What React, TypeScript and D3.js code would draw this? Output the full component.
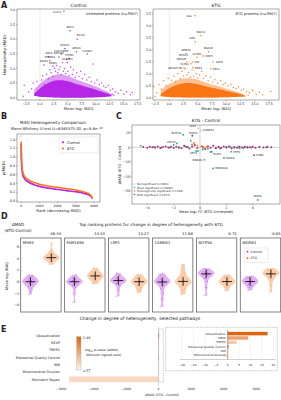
import React from "react";
import * as d3 from "d3";

const FONT = "'DejaVu Sans', sans-serif";
const PURPLE = "#b626e6";
const ORANGE = "#fa7614";
const TEAL = "#35a7a1";
const MAGENTA = "#a8367f";
const GREY = "#c8c8c8";
const AXIS = "#555";
const INK = "#222";

// ---------- A: heterogeneity vs abundance ----------
const ctrlCloudX = [-1.0, 0, 1, 2, 3, 4, 5, 6, 7, 8, 9, 10, 11, 12, 12.8];
const ctrlCloudHi = [0.14, 0.32, 0.46, 0.55, 0.6, 0.6, 0.56, 0.5, 0.44, 0.38, 0.33, 0.27, 0.21, 0.15, 0.08];
const ctrlCloudLo = [0.06, 0.03, 0.02, 0.01, 0, 0, 0, 0, 0, 0, 0, 0.01, 0.02, 0.03, 0.05];
// sparser halo above the dense core
const ctrlHaloHi = [0.28, 0.48, 0.64, 0.74, 0.8, 0.8, 0.74, 0.66, 0.58, 0.52, 0.45, 0.38, 0.3, 0.22, 0.12];
const ctrlOutX = [-3.0, -2.8, -2.0, -1.5, -1.2, -0.8, -0.5, 0.3, 0.5, 0.8, 1.2, 1.5, 1.8, 2.0, 2.3, 2.6, 2.8, 3.0, 3.2, 3.4, 3.6, 3.8, 4.0, 4.2, 4.4, 4.6, 4.8, 5.0, 5.2, 5.5, 5.8, 6.0, 6.3, 6.6, 7.0, 7.3, 7.6, 8.0, 8.4, 8.8, 9.2, 9.5, 9.8, 10.2, 10.6, 11.0, 11.4, 11.8, 12.2, 12.6, 12.9, 13.0, 13.2, 13.5, 14.0, 14.5, 15.0, 15.5, 16.2, 16.5];
const ctrlOutY = [0.05, 0.42, 0.2, 0.3, 0.5, 0.15, 0.55, 0.6, 0.75, 0.45, 0.8, 0.65, 0.95, 0.85, 0.72, 1.0, 0.9, 1.1, 0.85, 0.95, 1.05, 0.78, 1.2, 0.9, 1.0, 0.82, 1.3, 0.9, 0.75, 1.05, 0.8, 0.95, 0.7, 0.85, 0.72, 0.9, 0.65, 0.8, 0.6, 0.7, 0.55, 1.15, 0.5, 0.6, 0.45, 0.5, 0.4, 0.35, 0.42, 0.25, 0.12, 0.3, 0.08, 0.2, 0.15, 0.25, 0.12, 0.2, 0.1, 0.18];
const ctrlLabNames = ["CLCC1", "RDH2", "IDH3A", "MYO1E", "APOL6", "CDC42BPB", "CLASP1", "SNF8", "ANP32B", "PTPN3", "TMEM11", "SCAMP3", "RALB1", "PRIM1"];
const ctrlLabX = [4.3, 5.4, 6.66, 4.46, 6.52, 3.84, 8.48, 1.61, 3.39, 5.27, 1.79, 4.91, 0.71, 2.32];
const ctrlLabY = [2.95, 2.29, 2.0, 1.68, 1.57, 1.49, 1.49, 1.4, 1.39, 1.34, 1.26, 1.2, 1.12, 1.07];
const ctrlLabPos: [number, number, string][] = [[-2.5, 1.2, "end"], [0, -2.5, "middle"], [3.5, -3.5, "middle"]];

const tgCloudX = [-1.5, -0.5, 0.5, 1.5, 2.5, 3.5, 4.5, 5.5, 6.5, 7.5, 8.5, 9.5, 10.5, 11.5, 12.5, 13.3];
const tgCloudHi = [0.14, 0.32, 0.46, 0.55, 0.6, 0.62, 0.58, 0.53, 0.46, 0.41, 0.36, 0.31, 0.25, 0.2, 0.14, 0.07];
const tgCloudLo = [0.06, 0.03, 0.02, 0.01, 0, 0, 0, 0, 0, 0, 0, 0.01, 0.02, 0.03, 0.04, 0.05];
const tgHaloHi = [0.3, 0.5, 0.64, 0.74, 0.8, 0.82, 0.78, 0.7, 0.62, 0.55, 0.48, 0.42, 0.34, 0.27, 0.2, 0.1];
const tgOutX = [-2.7, -2.5, -2.2, -1.8, -1.4, -1.0, -0.6, -0.2, 0.4, 0.8, 1.1, 1.5, 1.9, 2.2, 2.5, 2.8, 3.1, 3.4, 3.7, 4.0, 4.3, 4.7, 5.0, 5.3, 5.7, 6.0, 6.4, 6.8, 7.2, 7.6, 8.0, 8.5, 9.0, 9.4, 9.8, 10.3, 10.8, 11.2, 11.7, 12.1, 12.6, 13.0, 13.5, 13.8, 14.0, 14.6, 15.2, 15.8, 16.3, 17.8];
const tgOutY = [0.45, 0.05, 0.2, 0.55, 0.35, 0.7, 0.5, 0.8, 0.72, 0.9, 0.65, 1.0, 0.8, 1.1, 0.9, 1.2, 0.95, 1.05, 0.85, 1.15, 0.9, 1.0, 0.82, 0.95, 1.1, 0.8, 0.9, 0.7, 0.85, 0.65, 0.75, 0.6, 0.7, 0.55, 0.6, 0.48, 0.55, 0.42, 0.38, 0.45, 0.3, 0.35, 0.25, 0.1, 0.2, 0.3, 0.15, 0.22, 0.12, 0.25];
const tgLabNames = ["AGL", "NACC2", "GNS", "NAA30", "RBM28", "SHTN1", "HINT2", "INTS11", "PRKG1", "PIR", "GOT1", "CCPG1", "PMS1", "ARHGEF40", "ERC1"];
const tgLabX = [4.5, 5.54, 4.55, 6.85, 2.92, 4.84, 5.9, 2.83, 3.1, 4.14, 7.64, 3.8, 4.14, 2.57, 7.29];
const tgLabY = [3.42, 2.58, 2.33, 1.91, 1.83, 1.68, 1.74, 1.62, 1.49, 1.49, 1.49, 1.41, 1.26, 1.24, 1.2];
const tgLabPos: [number, number, string][] = [
  [-3, 1.2, "end"], [0, -2.5, "middle"], [-3, -2.5, "middle"], [0, -3, "middle"], [0, -2.5, "middle"],
  [0, -2.5, "middle"], [2, 1.2, "start"], [-2, -2.5, "middle"], [-6, -1.5, "middle"], [2, 1.2, "start"],
  [3, 1.2, "start"], [-2, 1.2, "end"], [2, 1.2, "start"], [-2, 1.2, "end"], [2, 1.2, "start"],
];
const aXTicks = [-2.5, 0, 2.5, 5, 7.5, 10, 12.5, 15, 17.5];

// ---------- B: ranked MAD ----------
const bRank = [0, 10, 25, 50, 100, 200, 400, 700, 1000, 1500, 2000, 2500, 3000, 3400, 3700, 3850, 3907];
const bCtrl = [1.3, 1.0, 0.82, 0.7, 0.58, 0.5, 0.43, 0.37, 0.33, 0.29, 0.26, 0.235, 0.21, 0.18, 0.14, 0.1, 0.05];
const bTg = [1.35, 1.05, 0.88, 0.76, 0.64, 0.55, 0.48, 0.42, 0.38, 0.34, 0.31, 0.28, 0.25, 0.21, 0.17, 0.11, 0.06];
const bTopRank = [0, 4, 8, 14, 22];
const bTopVal = [1.47, 1.27, 1.21, 1.05, 0.97];

// ---------- C: delta MAD vs fold change ----------
const bothX = [-4.3, -4.0, -3.8, -3.6, -3.4, -3.2, -3.0, -2.8, -2.6, -2.4, -2.2, -2.0, -1.8, -1.6, -1.4, -1.2, -1.0, -0.8, -0.6, -0.4, -0.2, 0.2, 0.4, 0.6, 0.8, 1.0, 1.2, 1.4, 1.6, 1.8, 2.0, 2.2, 2.4, 2.6, 2.8, 3.0, 3.2, 3.4, 3.6, 3.8, 4.0, 4.2, 4.5, 4.8, 5.1, 5.4];
const bothY = [0.2, -0.3, 0.4, 0.1, -0.2, 0.5, -0.4, 0.2, 0.6, -0.1, 0.3, -0.5, 0.4, 0.1, -0.6, 1.0, 0.2, -0.8, 0.6, 1.5, -0.5, 0.4, -1.2, 0.7, -0.3, 1.1, -0.6, 0.3, -0.4, 0.6, -0.2, 0.5, -0.7, 0.2, -0.3, 0.4, -0.1, 0.3, -0.2, 0.1, 0.4, -0.3, 0.2, -0.1, 0.3, 0.1];
const meanX = [-4.5, -3.5, -2.9, -2.3, -2.0, -1.6, -0.9, -0.7, -0.3, 0.2, 0.6, 0.8, 1.5, 2.0, 2.6, 2.9, 3.3, 3.6, 3.9, 4.5, 5.0, -1.1, 1.2, 2.3, 3.0];
const meanY = [1.0, 0.3, -0.2, -0.3, 1.6, -0.4, 0.3, 4.5, -2.5, -1.5, -1.0, -3.2, -0.8, 0.2, -0.3, 0.5, -0.5, 0.2, -0.2, 0.3, -0.1, 0.6, -0.4, 0.3, -0.6];
const hetX = [-0.45, -0.2, 0.1, 0.3, -0.6, 0.5];
const hetY = [3.0, 1.2, 0.8, -0.5, 2.0, 0.3];
const nsX = [-1.0, 0.4, 1.2, -2.0, 2.5, -0.5, 3.5, -3.2];
const nsY = [0.1, -0.2, 0.3, -0.1, 0.05, 0.4, 0.2, -0.2];
const cLabNames = ["LRP1", "CAMKK1", "BLTP3A", "KNTC1", "UTP20", "SETX", "TCAF2", "PHF3", "PANK4", "WDR81", "FAM169A", "CHML", "MSH3"];
const cLabX = [-0.13, 0.08, -1.27, -0.58, -1.75, -0.15, 0.9, 2.37, 1.82, 0.33, 1.0, 4.1, 4.37];
const cLabY = [13.27, 11.68, 8.72, 8.0, 2.6, -2.5, -3.0, -3.0, -7.4, -8.65, -14.53, -5.4, -36.34];
const cLabGroup = ["ns", "ns", "mean", "both", "mean", "mean", "mean", "mean", "mean", "mean", "mean", "both", "mean"];
const cLabPos: [number, number, string][] = [
  [-2, -1.2, "end"], [2, 0.8, "start"], [-2, -0.8, "end"], [1, -2, "middle"], [-1.5, -1, "end"],
  [-1, 3.5, "end"], [1, 3.5, "start"], [2, 1, "start"], [2, 1, "start"], [-2, 1, "end"],
  [2, 1, "start"], [2, 1, "start"], [0, -2.5, "middle"],
];
const cLegend = ["Not significant (n=663)", "Mean significant (n=2089)", "Heterogeneity significant (n=138)", "Both significant (n=977)"];

// ---------- D: top proteins ----------
const dProteins = ["MSH3", "FAM169A", "LRP1", "CAMKK1", "BLTP3A", "WDR81"];
const dDelta = ["-36.34", "-14.53", "13.27", "11.68", "8.72", "-8.65"];
const dCtrl = [
  [-2.2, -1.6, -1.1, -0.8, -0.6, -0.5, -0.35, -0.25, -0.15, -0.05, 0, 0.05, 0.12, 0.2, 0.3, 0.4, 0.5, 0.65, 0.8, 1.0, 1.2],
  [-3.6, -2.0, -1.0, -0.6, -0.4, -0.3, -0.2, -0.1, 0, 0.05, 0.1, 0.2, 0.3, 0.45, 0.6, 0.8, 1.2],
  [-2.5, -1.4, -0.6, -0.3, -0.1, 0.05, 0.15, 0.2, 0.25, 0.35, 0.45, 0.6, 0.8, 1.1, 1.5],
  [-4.3, -3.0, -2.0, -1.2, -0.7, -0.4, -0.2, -0.1, 0, 0.1, 0.2, 0.35, 0.5, 0.8, 1.1, 1.4],
  [-2.4, -1.0, 0, 0.6, 0.9, 1.1, 1.25, 1.35, 1.4, 1.5, 1.6, 1.7, 1.85, 2.0, 2.3],
  [-1.5, -1.0, -0.6, -0.4, -0.2, -0.1, 0, 0.05, 0.15, 0.3, 0.45, 0.6, 0.8, 1.0],
];
const dTg = [
  [2.9, 3.3, 3.6, 3.8, 3.9, 4.0, 4.05, 4.1, 4.15, 4.2, 4.3, 4.4, 4.5, 4.7, 4.9, 5.3, 6.7],
  [-0.4, 0, 0.3, 0.5, 0.65, 0.8, 0.9, 1.0, 1.1, 1.2, 1.35, 1.5, 1.7, 2.0, 2.4],
  [-1.9, -1.4, -1.0, -0.6, -0.4, -0.2, -0.1, 0, 0.05, 0.15, 0.3, 0.5, 0.7, 1.0, 1.3],
  [-2.2, -1.6, -1.1, -0.7, -0.45, -0.25, -0.1, 0, 0.1, 0.25, 0.45, 0.7, 1.0, 1.5, 2.2, 3.0],
  [-1.6, -1.0, -0.6, -0.4, -0.2, -0.1, 0, 0.05, 0.15, 0.3, 0.5, 0.7, 1.0, 1.2],
  [-1.8, -0.6, 0.3, 0.7, 1.0, 1.2, 1.3, 1.4, 1.5, 1.6, 1.75, 1.9, 2.1, 2.3],
];

// ---------- E: pathways ----------
const pathways = ["Ubiquitination", "KEAP", "TNFR2", "Ribosomal Quality Control", "NIK", "Mitochondrial Division", "Mismatch Repair"];
const pathDelta = [17.5, 9.0, 3.9, 0.45, -1.2, -1.9, -2748];
const pathLogP = [2.49, 1.67, 1.13, 2.2, 0.67, 0.8, 0.9];

type Lin = d3.ScaleLinear<number, number>;
const f1 = d3.format(".1f");
const f0 = d3.format("d");

function XTicks({ x, yb, ticks, fmt, fs = 3.6 }: { x: Lin; yb: number; ticks: number[]; fmt: (v: number) => string; fs?: number }) {
  return (
    <g>
      {ticks.map((t) => (
        <g key={t}>
          <line x1={x(t)} x2={x(t)} y1={yb} y2={yb + 1.2} stroke={AXIS} strokeWidth={0.4} />
          <text x={x(t)} y={yb + 1.6 + fs} fontSize={fs} textAnchor="middle" fill={INK}>{fmt(t)}</text>
        </g>
      ))}
    </g>
  );
}

function YTicks({ y, xl, ticks, fmt, fs = 3.6 }: { y: Lin; xl: number; ticks: number[]; fmt: (v: number) => string; fs?: number }) {
  return (
    <g>
      {ticks.map((t) => (
        <g key={t}>
          <line x1={xl - 1.2} x2={xl} y1={y(t)} y2={y(t)} stroke={AXIS} strokeWidth={0.4} />
          <text x={xl - 1.8} y={y(t) + fs * 0.36} fontSize={fs} textAnchor="end" fill={INK}>{fmt(t)}</text>
        </g>
      ))}
    </g>
  );
}

function Frame({ x0, x1, y0, y1, stroke = AXIS, w = 0.5 }: { x0: number; x1: number; y0: number; y1: number; stroke?: string; w?: number }) {
  return <rect x={x0} y={y0} width={x1 - x0} height={y1 - y0} fill="none" stroke={stroke} strokeWidth={w} />;
}

function ScatterPanel(p: {
  id: string; left: number; right: number; xDom: [number, number]; yDom: [number, number]; yTicks: number[];
  color: string; cloudX: number[]; cloudHi: number[]; cloudLo: number[]; haloHi: number[]; outX: number[]; outY: number[];
  names: string[]; lx: number[]; ly: number[]; pos: [number, number, string][]; title: string; note: string;
}) {
  const top = 9, bottom = 100;
  const x = d3.scaleLinear().domain(p.xDom).range([p.left, p.right]);
  const y = d3.scaleLinear().domain(p.yDom).range([bottom, top]);
  const idx = d3.range(p.cloudX.length);
  const band = (hi: number[]) =>
    d3.area<number>().x((i) => x(p.cloudX[i])).y0((i) => y(p.cloudLo[i])).y1((i) => y(hi[i])).curve(d3.curveBasis)(idx) || "";
  const mid = (p.left + p.right) / 2;
  return (
    <g>
      <clipPath id={p.id}><rect x={p.left} y={top} width={p.right - p.left} height={bottom - top} /></clipPath>
      <g clipPath={`url(#${p.id})`}>
        <line x1={x(0)} x2={x(0)} y1={top} y2={bottom} stroke="#d8d8d8" strokeWidth={0.5} />
        <path d={band(p.haloHi)} fill={p.color} opacity={0.45} />
        <path d={band(p.cloudHi)} fill={p.color} />
        {p.outX.map((v, i) => <circle key={i} cx={x(v)} cy={y(p.outY[i])} r={0.75} fill={p.color} opacity={0.85} />)}
        {p.names.map((n, i) => {
          const [dx, dy, anchor] = p.pos[i] || [0, -2.5, "middle"];
          return (
            <g key={n}>
              <circle cx={x(p.lx[i])} cy={y(p.ly[i])} r={0.75} fill={p.color} />
              <text x={x(p.lx[i]) + dx} y={y(p.ly[i]) + dy} fontSize={2.6} textAnchor={anchor as any} fill={INK}>{n}</text>
            </g>
          );
        })}
      </g>
      <Frame x0={p.left} x1={p.right} y0={top} y1={bottom} />
      <XTicks x={x} yb={bottom} ticks={aXTicks} fmt={f1} fs={3.3} />
      <YTicks y={y} xl={p.left} ticks={p.yTicks} fmt={f1} fs={3.3} />
      <text x={mid} y={6.5} fontSize={4.4} textAnchor="middle" fill={INK}>{p.title}</text>
      <text x={p.right - 2} y={15} fontSize={3.6} textAnchor="end" fill={INK}>{p.note}</text>
      <text x={mid} y={109.5} fontSize={3.8} textAnchor="middle" fill={INK}>Mean log₂ IBAQ</text>
    </g>
  );
}

function PanelA() {
  return (
    <g>
      <text x={1} y={8} fontSize={8} fontWeight="bold" fill={INK}>A</text>
      <text transform="translate(6,55) rotate(-90)" fontSize={3.8} textAnchor="middle" fill={INK}>Heterogeneity (MAD)</text>
      <ScatterPanel id="clipA1" left={17} right={140} xDom={[-4.1, 17.9]} yDom={[-0.08, 3.03]} yTicks={[0, 0.5, 1, 1.5, 2, 2.5, 3]}
        color={PURPLE} cloudX={ctrlCloudX} cloudHi={ctrlCloudHi} cloudLo={ctrlCloudLo} haloHi={ctrlHaloHi} outX={ctrlOutX} outY={ctrlOutY}
        names={ctrlLabNames} lx={ctrlLabX} ly={ctrlLabY} pos={ctrlLabPos} title="Control" note="Untreated proteins (n=3907)" />
      <ScatterPanel id="clipA2" left={153} right={279} xDom={[-2.85, 19.2]} yDom={[-0.1, 3.7]} yTicks={[0, 0.5, 1, 1.5, 2, 2.5, 3, 3.5]}
        color={ORANGE} cloudX={tgCloudX} cloudHi={tgCloudHi} cloudLo={tgCloudLo} haloHi={tgHaloHi} outX={tgOutX} outY={tgOutY}
        names={tgLabNames} lx={tgLabX} ly={tgLabY} pos={tgLabPos} title="6TG" note="6TG proteins (n=3907)" />
    </g>
  );
}

function PanelB() {
  const x = d3.scaleLinear().domain([-230, 4330]).range([17, 100]);
  const y = d3.scaleLinear().domain([-0.023, 1.52]).range([202, 134]);
  const line = d3.line<number>().x((i) => x(bRank[i])).curve(d3.curveMonotoneX);
  const idx = d3.range(bRank.length);
  return (
    <g>
      <text x={1} y={119} fontSize={8} fontWeight="bold" fill={INK}>B</text>
      <text x={53} y={124} fontSize={4.1} textAnchor="middle" fill={INK}>MAD Heterogeneity Comparison</text>
      <text x={57} y={130} fontSize={3.8} textAnchor="middle" fill={INK}>
        Mann-Whitney U test U=6385375.00, p=8.6e<tspan dy={-1.4} fontSize={2.6}>−16</tspan>
      </text>
      {bTopRank.map((r, i) => (
        <rect key={i} x={x(r) - 0.8} y={y(bTopVal[i]) - 0.8} width={1.6} height={1.6} fill={i % 2 ? PURPLE : ORANGE} opacity={0.35} />
      ))}
      <path d={line.y((i) => y(bCtrl[i]))(idx) || ""} fill="none" stroke={PURPLE} strokeWidth={1.7} />
      <path d={line.y((i) => y(bTg[i]))(idx) || ""} fill="none" stroke={ORANGE} strokeWidth={1.5} />
      <Frame x0={17} x1={100} y0={134} y1={202} />
      <XTicks x={x} yb={202} ticks={[0, 1000, 2000, 3000, 4000]} fmt={f0} fs={3.2} />
      <YTicks y={y} xl={17} ticks={[0, 0.2, 0.4, 0.6, 0.8, 1.0, 1.2, 1.4]} fmt={f1} fs={3.4} />
      <text x={58.5} y={212.3} fontSize={3.8} textAnchor="middle" fill={INK}>Rank (decreasing MAD)</text>
      <text transform="translate(5,168) rotate(-90)" fontSize={3.8} textAnchor="middle" fill={INK}>p(MAD)</text>
      <rect x={59} y={137} width={39} height={16} rx={1} fill="#fff" stroke="#d0d0d0" strokeWidth={0.4} />
      <circle cx={63} cy={142.3} r={1.1} fill={PURPLE} />
      <text x={67} y={143.6} fontSize={3.6} fill={INK}>Control</text>
      <circle cx={63} cy={148.6} r={1.1} fill={ORANGE} />
      <text x={67} y={149.9} fontSize={3.6} fill={INK}>6TG</text>
    </g>
  );
}

function PanelC() {
  const x = d3.scaleLinear().domain([-5.15, 6.06]).range([132, 280]);
  const y = d3.scaleLinear().domain([-39.1, 15.4]).range([204, 125]);
  const colorOf: Record<string, string> = { ns: GREY, mean: TEAL, het: ORANGE, both: MAGENTA };
  const dots = (xs: number[], ys: number[], c: string, r: number) =>
    xs.map((v, i) => <circle key={c + i} cx={x(v)} cy={y(ys[i])} r={r} fill={c} />);
  return (
    <g>
      <text x={116} y={119} fontSize={8} fontWeight="bold" fill={INK}>C</text>
      <text x={206} y={122} fontSize={4.3} textAnchor="middle" fill={INK}>6TG - Control</text>
      <line x1={x(0)} x2={x(0)} y1={125} y2={204} stroke="#aaa" strokeWidth={0.5} />
      <line x1={132} x2={280} y1={y(0)} y2={y(0)} stroke="#aaa" strokeWidth={0.5} />
      {dots(nsX, nsY, GREY, 0.6)}
      {dots(meanX, meanY, TEAL, 0.95)}
      {dots(bothX, bothY, MAGENTA, 1.05)}
      {dots(hetX, hetY, ORANGE, 0.95)}
      {cLabNames.map((n, i) => {
        const [dx, dy, anchor] = cLabPos[i];
        return (
          <g key={n}>
            <circle cx={x(cLabX[i])} cy={y(cLabY[i])} r={0.95} fill={colorOf[cLabGroup[i]]} />
            <text x={x(cLabX[i]) + dx} y={y(cLabY[i]) + dy} fontSize={2.7} textAnchor={anchor as any} fill={INK}>{n}</text>
          </g>
        );
      })}
      {cLegend.map((t, i) => (
        <g key={t}>
          <circle cx={134.5} cy={184 + i * 3.5} r={0.8} fill={[GREY, TEAL, ORANGE, MAGENTA][i]} />
          <text x={137} y={185 + i * 3.5} fontSize={2.7} fill={INK}>{t}</text>
        </g>
      ))}
      <Frame x0={132} x1={280} y0={125} y1={204} />
      <XTicks x={x} yb={204} ticks={[-4, -2, 0, 2, 4]} fmt={f0} fs={3.4} />
      <YTicks y={y} xl={132} ticks={[10, 0, -10, -20, -30]} fmt={f0} fs={3.4} />
      <text x={206} y={213} fontSize={3.6} textAnchor="middle" fill={INK}>Mean log₂ FC (6TG-Untreated)</text>
      <text transform="translate(121,165) rotate(-90)" fontSize={3.6} textAnchor="middle" fill={INK}>ΔMAD (6TG - Control)</text>
    </g>
  );
}

function kde(values: number[], bw: number): [number, number][] {
  const lo = d3.min(values) as number;
  const hi = d3.max(values) as number;
  const n = 48;
  return d3.range(n + 1).map((k) => {
    const g = lo + ((hi - lo) * k) / n;
    return [g, d3.mean(values, (v) => Math.exp(-0.5 * ((g - v) / bw) ** 2)) as number];
  });
}

function Violin({ values, cx, y, fill, dot }: { values: number[]; cx: number; y: Lin; fill: string; dot: string }) {
  const dens = kde(values, 0.38);
  const maxD = d3.max(dens, (d) => d[1]) as number;
  const w = d3.scaleLinear().domain([0, maxD]).range([0.3, 8.3]);
  const area = d3.area<[number, number]>().y((d) => y(d[0])).x0((d) => cx - w(d[1])).x1((d) => cx + w(d[1])).curve(d3.curveBasis);
  const med = d3.median(values) as number;
  return (
    <g>
      <path d={area(dens) || ""} fill={fill} opacity={0.85} />
      {values.map((v, i) => (
        <circle key={i} cx={cx + (((i * 37) % 11) - 5) * 0.42} cy={y(v)} r={0.45} fill={dot} />
      ))}
      <line x1={cx - 5} x2={cx + 5} y1={y(med)} y2={y(med)} stroke="#000" strokeWidth={0.8} />
      <line x1={cx} x2={cx} y1={y(med - 0.75)} y2={y(med + 0.75)} stroke="#000" strokeWidth={0.8} />
    </g>
  );
}

function PanelD() {
  const panels = d3.scaleBand().domain(dProteins).range([20.7, 280.7]).paddingInner(0.08);
  const y = d3.scaleLinear().domain([-5.22, 7.53]).range([312, 238]);
  const bw = panels.bandwidth();
  const grp = d3.scalePoint().domain(["Control", "6TG"]).range([0, bw]).padding(0.47);
  return (
    <g>
      <text x={1} y={219} fontSize={8} fontWeight="bold" fill={INK}>D</text>
      <text x={18} y={226} fontSize={4} textAnchor="middle" fill={INK}>ΔMAD</text>
      <text x={18} y={231.5} fontSize={4} textAnchor="middle" fill={INK}>(6TG-Control)</text>
      <text x={151} y={226} fontSize={4.2} textAnchor="middle" fill={INK}>Top ranking proteins for change in degree of heterogeneity with 6TG</text>
      {dProteins.map((p, i) => {
        const x0 = panels(p) as number;
        return (
          <g key={p}>
            <clipPath id={`clipD${i}`}><rect x={x0} y={238} width={bw} height={74} /></clipPath>
            <g clipPath={`url(#clipD${i})`}>
              <Violin values={dCtrl[i]} cx={x0 + (grp("Control") as number)} y={y} fill="#dca3ef" dot="#a51fd6" />
              <Violin values={dTg[i]} cx={x0 + (grp("6TG") as number)} y={y} fill="#f9c59e" dot="#f58a3c" />
            </g>
            <Frame x0={x0} x1={x0 + bw} y0={238} y1={312} stroke="#666" w={0.8} />
            <text x={x0 + 2} y={243.5} fontSize={3.8} fill={INK}>{p}</text>
            <text x={x0 + bw} y={234.5} fontSize={3.8} textAnchor="end" fill={INK}>{dDelta[i]}</text>
          </g>
        );
      })}
      <YTicks y={y} xl={20.7} ticks={[6, 4, 2, 0, -2, -4]} fmt={f0} fs={3.4} />
      <text transform="translate(8,276) rotate(-90)" fontSize={3.6} textAnchor="middle" fill={INK}>Mean log₂ IBAQ</text>
      <rect x={244} y={248} width={24} height={14.5} rx={1} fill="#fff" stroke="#d0d0d0" strokeWidth={0.4} />
      <circle cx={247.5} cy={251.7} r={0.9} fill={PURPLE} />
      <text x={250.5} y={252.9} fontSize={3.2} fill={INK}>Control</text>
      <circle cx={247.5} cy={258} r={0.9} fill={ORANGE} />
      <text x={250.5} y={259.2} fontSize={3.2} fill={INK}>6TG</text>
    </g>
  );
}

function PanelE() {
  const color = d3.scaleLinear<string>().domain([0.57, 2.49]).range(["#fdf2ea", "#e0630f"]).clamp(true);
  const x = d3.scaleLinear().domain([-3300, 3600]).range([51.25, 275.5]);
  const rows = d3.scaleBand().domain(pathways).range([331, 383.75]).padding(0.2);
  const inset = pathways.slice(0, 6);
  const xi = d3.scaleLinear().domain([-21, 21]).range([179.8, 275.6]);
  const ri = d3.scaleBand().domain(inset).range([331, 358]).padding(0.2);
  const cbTop = 336.7, cbBot = 370;
  return (
    <g>
      <text x={140} y={320} fontSize={4.4} textAnchor="middle" fill={INK}>Change in degree of heterogeneity, selected pathways</text>
      <text x={1} y={332} fontSize={8} fontWeight="bold" fill={INK}>E</text>
      <line x1={x(0)} x2={x(0)} y1={327} y2={386} stroke="#bbb" strokeWidth={0.5} />
      {pathways.map((p, i) => {
        const v = pathDelta[i];
        const y0 = rows(p) as number;
        return (
          <g key={p}>
            <rect x={Math.min(x(0), x(v))} y={y0} width={Math.max(0.3, Math.abs(x(v) - x(0)))} height={rows.bandwidth()} fill={color(pathLogP[i])} />
            <text x={60} y={y0 + rows.bandwidth() / 2 + 1.2} fontSize={3.4} textAnchor="end" fill={INK}>{p}</text>
          </g>
        );
      })}
      <rect x={158.7} y={329} width={4.6} height={53} fill="none" stroke="#777" strokeWidth={0.45} strokeDasharray="1,0.8" />
      {[-3000, -2000, -1000, 0, 1000, 2000, 3000].map((t) => (
        <text key={t} x={x(t)} y={390} fontSize={3} textAnchor="middle" fill={INK}>{f0(t)}</text>
      ))}
      <text x={162} y={396} fontSize={3.2} textAnchor="middle" fill={INK}>ΔMAD (6TG - Control)</text>

      <defs>
        <linearGradient id="cbar" x1="0" y1="1" x2="0" y2="0">
          {d3.range(0, 1.01, 0.25).map((t) => (
            <stop key={t} offset={t} stopColor={color(0.57 + t * (2.49 - 0.57))} />
          ))}
        </linearGradient>
      </defs>
      <rect x={76.7} y={cbTop} width={4.3} height={cbBot - cbTop} fill="url(#cbar)" stroke="#999" strokeWidth={0.3} />
      <text x={83} y={339} fontSize={3.3} fill={INK}>2.49</text>
      <text x={83} y={371.5} fontSize={3.3} fill={INK}>0.57</text>
      <text x={84} y={351} fontSize={3.2} fill={INK}>-log<tspan fontSize={2.3} dy={0.8}>10</tspan><tspan dy={-0.8}> p-value (ΔMAD,</tspan></text>
      <text x={86} y={356.3} fontSize={3.2} fill={INK}>Wilcoxon signed-rank)</text>

      <rect x={165.7} y={327.3} width={111.6} height={43.4} fill="#fff" stroke="#777" strokeWidth={0.45} strokeDasharray="1,0.8" />
      {d3.range(-20, 21, 5).map((t) => (
        <g key={t}>
          <line x1={xi(t)} x2={xi(t)} y1={330} y2={359} stroke="#e4e4e4" strokeWidth={0.4} />
          <text x={xi(t)} y={365.5} fontSize={2.9} textAnchor="middle" fill={INK}>{f0(t)}</text>
        </g>
      ))}
      {inset.map((p, i) => {
        const y0 = ri(p) as number;
        const v = pathDelta[i];
        return (
          <g key={p}>
            <rect x={Math.min(xi(0), xi(v))} y={y0} width={Math.abs(xi(v) - xi(0))} height={ri.bandwidth()} fill={color(pathLogP[i])} />
            <text x={xi(0) - 2} y={y0 + ri.bandwidth() / 2 + 1} fontSize={2.9} textAnchor="end" fill={INK}>{p}</text>
          </g>
        );
      })}
      <line x1={xi(0)} x2={xi(0)} y1={330} y2={359.5} stroke="#555" strokeWidth={0.5} />
      <line x1={179.8} x2={275.6} y1={359.5} y2={359.5} stroke="#888" strokeWidth={0.4} />
    </g>
  );
}

export default function App() {
  return (
    <svg width={281} height={400} viewBox="0 0 281 400" fontFamily={FONT}
      style={{ position: "absolute", left: 0, top: 0, background: "#fff", display: "block" }}>
      <rect width={281} height={400} fill="#fff" />
      <PanelA />
      <PanelB />
      <PanelC />
      <PanelD />
      <PanelE />
    </svg>
  );
}
